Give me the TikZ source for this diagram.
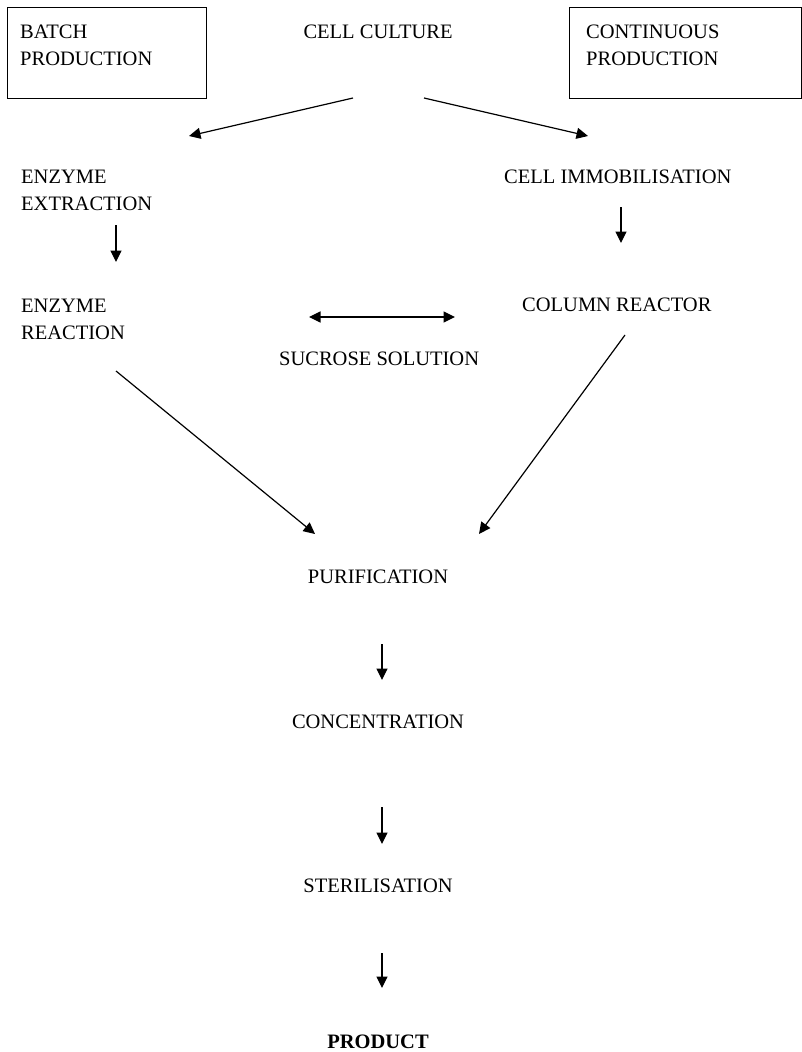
\documentclass[tikz,border=0pt]{standalone}
\usepackage{fontspec}
\setmainfont{Liberation Serif}
\usetikzlibrary{arrows.meta}
\tikzset{
  lbl/.style={inner sep=0pt, font=\fontsize{20.5}{27}\selectfont},
  lblml/.style={lbl, align=left, anchor=north west},
  tip/.tip={Triangle[length=11.5pt,width=11pt]},
  arr/.style={line width=1.2pt, -tip},
  darr/.style={line width=1.2pt, tip-tip},
  boxst/.style={draw, line width=1pt, inner sep=0pt, anchor=north west}
}
\begin{document}
\begin{tikzpicture}[x=1pt,y=-1pt]
\useasboundingbox (0,0) rectangle (802,1052);
% boxes
\node[boxst, minimum width=199pt, minimum height=91pt] (batchbox) at (7,7) {};
\node[boxst, minimum width=232pt, minimum height=91pt] (contbox) at (569,7) {};
% labels
\node[lblml] (batch) at (20,24.6) {BATCH\\PRODUCTION};
\node[lblml] (cont) at (586,24.6) {CONTINUOUS\\PRODUCTION};
\node[lbl, anchor=base] (cc) at (378,38) {CELL CULTURE};
\node[lblml] (ext) at (21,169.6) {ENZYME\\EXTRACTION};
\node[lbl, anchor=base west] (imm) at (504,183) {CELL IMMOBILISATION};
\node[lblml] (rea) at (21,298.6) {ENZYME\\REACTION};
\node[lbl, anchor=base west] (col) at (522,311) {COLUMN REACTOR};
\node[lbl, anchor=base west] (suc) at (279,365) {SUCROSE SOLUTION};
\node[lbl, anchor=base] (pur) at (378,583) {PURIFICATION};
\node[lbl, anchor=base] (con) at (378,728) {CONCENTRATION};
\node[lbl, anchor=base] (ste) at (378,892) {STERILISATION};
\node[lbl, anchor=base, font=\fontsize{20.5}{27}\selectfont\bfseries] (prod) at (378,1048) {PRODUCT};
% connector end points
\coordinate (ccL) at (353,98);  \coordinate (ccLe) at (189,136);
\coordinate (ccR) at (424,98);  \coordinate (ccRe) at (588,136);
\coordinate (extA) at (116,225); \coordinate (extB) at (116,262);
\coordinate (immA) at (621,207); \coordinate (immB) at (621,243);
\coordinate (sucA) at (309,317); \coordinate (sucB) at (455,317);
\coordinate (reaA) at (116,371); \coordinate (reaB) at (315,534);
\coordinate (colA) at (625,335); \coordinate (colB) at (479,534);
\coordinate (purA) at (382,644); \coordinate (purB) at (382,680);
\coordinate (conA) at (382,807); \coordinate (conB) at (382,844);
\coordinate (steA) at (382,953); \coordinate (steB) at (382,988);
% connectors
\draw[arr] (ccL) -- (ccLe);
\draw[arr] (ccR) -- (ccRe);
\draw[arr] (extA) -- (extB);
\draw[arr] (immA) -- (immB);
\draw[darr] (sucA) -- (sucB);
\draw[arr] (reaA) -- (reaB);
\draw[arr] (colA) -- (colB);
\draw[arr] (purA) -- (purB);
\draw[arr] (conA) -- (conB);
\draw[arr] (steA) -- (steB);
\end{tikzpicture}
\end{document}
